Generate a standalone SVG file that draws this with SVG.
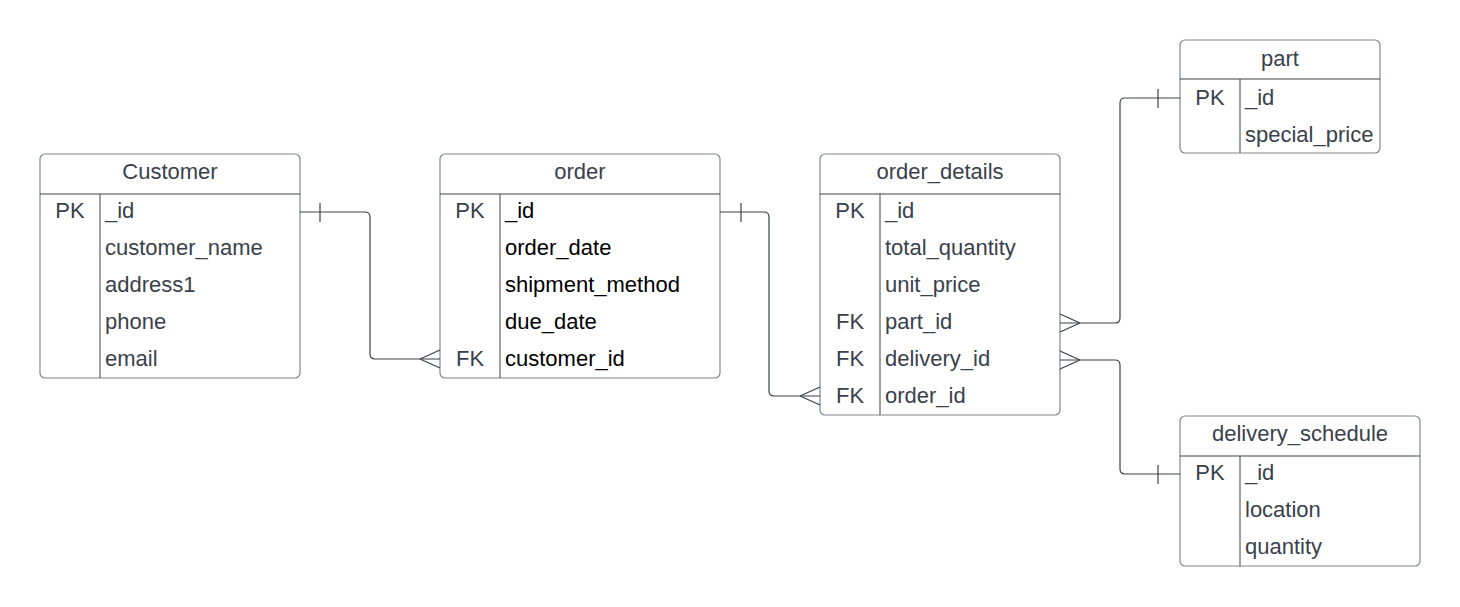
<svg xmlns="http://www.w3.org/2000/svg" width="1460" height="607" viewBox="0 0 1460 607">
<style>
.box{fill:#fff;stroke:#80868d;stroke-width:1.2}
.div{stroke:#3a414a;stroke-width:1;fill:none}
.t{font-family:"Liberation Sans",Arial,sans-serif;font-size:22px;fill:#3a414a}
.h{text-anchor:middle}
.k{text-anchor:middle}
.b{fill:#000}
.c{fill:none;stroke:#3a414a;stroke-width:1.2}
</style>
<rect width="1460" height="607" fill="#fff"/>
<g id="customer">
<rect class="box" x="40" y="154" width="260" height="224" rx="5"/>
<line class="div" x1="40" y1="194" x2="300" y2="194"/>
<line class="div" x1="100" y1="194" x2="100" y2="378"/>
<text class="t h" x="170" y="179">Customer</text>
<text class="t k" x="70" y="218">PK</text>
<text class="t" x="105" y="218">_id</text>
<text class="t" x="105" y="255">customer_name</text>
<text class="t" x="105" y="292">address1</text>
<text class="t" x="105" y="329">phone</text>
<text class="t" x="105" y="366">email</text>
</g>
<g id="order">
<rect class="box" x="440" y="154" width="280" height="224" rx="5"/>
<line class="div" x1="440" y1="194" x2="720" y2="194"/>
<line class="div" x1="500" y1="194" x2="500" y2="378"/>
<text class="t h" x="580" y="179">order</text>
<text class="t k" x="470" y="218">PK</text>
<text class="t b" x="505" y="218">_id</text>
<text class="t b" x="505" y="255">order_date</text>
<text class="t b" x="505" y="292">shipment_method</text>
<text class="t b" x="505" y="329">due_date</text>
<text class="t k" x="470" y="366">FK</text>
<text class="t b" x="505" y="366">customer_id</text>
</g>
<g id="order_details">
<rect class="box" x="820" y="154" width="240" height="261" rx="5"/>
<line class="div" x1="820" y1="194" x2="1060" y2="194"/>
<line class="div" x1="880" y1="194" x2="880" y2="415"/>
<text class="t h" x="940" y="179">order_details</text>
<text class="t k" x="850" y="218">PK</text>
<text class="t" x="885" y="218">_id</text>
<text class="t" x="885" y="255">total_quantity</text>
<text class="t" x="885" y="292">unit_price</text>
<text class="t k" x="850" y="329">FK</text>
<text class="t" x="885" y="329">part_id</text>
<text class="t k" x="850" y="366">FK</text>
<text class="t" x="885" y="366">delivery_id</text>
<text class="t k" x="850" y="403">FK</text>
<text class="t" x="885" y="403">order_id</text>
</g>
<g id="part">
<rect class="box" x="1180" y="40" width="200" height="113" rx="5"/>
<line class="div" x1="1180" y1="79" x2="1380" y2="79"/>
<line class="div" x1="1240" y1="79" x2="1240" y2="153"/>
<text class="t h" x="1280" y="66">part</text>
<text class="t k" x="1210" y="105">PK</text>
<text class="t" x="1245" y="105">_id</text>
<text class="t" x="1245" y="142">special_price</text>
</g>
<g id="delivery_schedule">
<rect class="box" x="1180" y="416" width="240" height="150" rx="5"/>
<line class="div" x1="1180" y1="456" x2="1420" y2="456"/>
<line class="div" x1="1240" y1="456" x2="1240" y2="566"/>
<text class="t h" x="1300" y="441">delivery_schedule</text>
<text class="t k" x="1210" y="480">PK</text>
<text class="t" x="1245" y="480">_id</text>
<text class="t" x="1245" y="517">location</text>
<text class="t" x="1245" y="554">quantity</text>
</g>
<g id="connectors">
<path class="c" d="M300 212 H365 Q370 212 370 217 V354 Q370 359 375 359 H440"/>
<path class="c" d="M320 203 V222 M420 359 L440 350 M420 359 L440 368"/>
<path class="c" d="M720 212 H764 Q769 212 769 217 V391 Q769 396 774 396 H820"/>
<path class="c" d="M741 203 V222 M800 396 L820 387 M800 396 L820 405"/>
<path class="c" d="M1060 323 H1115 Q1120 323 1120 318 V103 Q1120 98 1125 98 H1180"/>
<path class="c" d="M1158 89 V108 M1080 323 L1060 314 M1080 323 L1060 332"/>
<path class="c" d="M1060 360 H1115 Q1120 360 1120 365 V469 Q1120 474 1125 474 H1180"/>
<path class="c" d="M1158 465 V484 M1080 360 L1060 351 M1080 360 L1060 369"/>
</g>
</svg>
